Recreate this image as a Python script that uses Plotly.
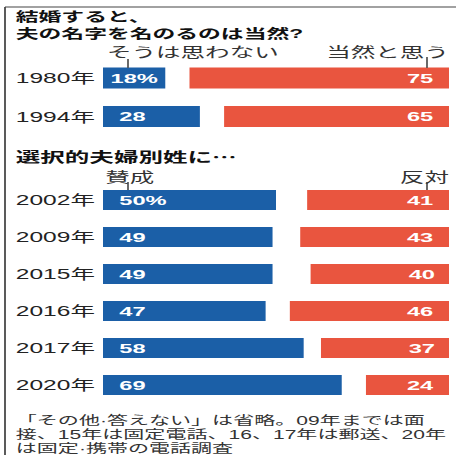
import plotly.graph_objects as go

# Question 1: should the wife take the husband's surname?
q1_years = ["1980年", "1994年"]
q1_no = [18, 28]        # そうは思わない
q1_yes = [75, 65]       # 当然と思う

# Question 2: optional separate surnames for married couples
q2_years = ["2002年", "2009年", "2015年", "2016年", "2017年", "2020年"]
q2_for = [50, 49, 49, 47, 58, 69]        # 賛成
q2_against = [41, 43, 40, 46, 37, 24]    # 反対

title_lines = ["結婚すると、", "夫の名字を名のるのは当然?"]
q1_labels = ["そうは思わない", "当然と思う"]
q2_heading = "選択的夫婦別姓に⋯"
q2_labels = ["賛成", "反対"]
note_lines = [
    "「その他·答えない」は省略。09年までは面",
    "接、15年は固定電話、16、17年は郵送、20年",
    "は固定·携帯の電話調査",
]

BLUE = "#1b5fa7"
RED = "#e9553f"
INK = "#222222"
JP = "Liberation Sans, Noto Sans CJK JP, sans-serif"
NUM = "Liberation Sans, Arial, sans-serif"

PAGE_W, H = 456, 455
W = 260                      # drawing width; the page widens it to PAGE_W
STRETCH = PAGE_W / W


def px(x):
    return x / PAGE_W


def py(y):
    return 1 - y / H


fig = go.Figure()


def add_pair(years, left_vals, right_vals, yaxis):
    fig.add_trace(go.Bar(
        y=years, x=left_vals, orientation="h", marker_color=BLUE,
        marker_line_width=0, xaxis="x", yaxis=yaxis, hoverinfo="skip"))
    fig.add_trace(go.Bar(
        y=years, x=right_vals, base=[100 - v for v in right_vals],
        orientation="h", marker_color=RED, marker_line_width=0,
        xaxis="x", yaxis=yaxis, hoverinfo="skip"))


add_pair(q1_years, q1_no, q1_yes, "y")
add_pair(q2_years, q2_for, q2_against, "y2")

annotations = []


def value_labels(years, left_vals, right_vals, yref):
    for i, (yr, lv, rv) in enumerate(zip(years, left_vals, right_vals)):
        ltxt = f"{lv}%" if i == 0 else str(lv)
        if lv < 25:
            lx, lanchor = lv / 2, "center"
        else:
            lx, lanchor = 3.7, "left"
        annotations.append(dict(
            x=lx, y=yr, xref="x", yref=yref, text=ltxt, showarrow=False,
            xanchor=lanchor, font=dict(family=NUM, size=13.5, color="white", weight="bold")))
        annotations.append(dict(
            x=97.1, y=yr, xref="x", yref=yref, text=str(rv), showarrow=False,
            xanchor="right", font=dict(family=NUM, size=13.5, color="white", weight="bold")))
        annotations.append(dict(
            x=px(13), y=yr, xref="paper", yref=yref, text=yr, showarrow=False,
            xanchor="left", font=dict(family=JP, size=14, color=INK)))


value_labels(q1_years, q1_no, q1_yes, "y")
value_labels(q2_years, q2_for, q2_against, "y2")


def text(x, y, s, anchor="left", size=14, bold=False, color=INK):
    annotations.append(dict(
        x=px(x), y=py(y), xref="paper", yref="paper", text=s, showarrow=False,
        xanchor=anchor, yanchor="middle", align="left",
        font=dict(family=JP, size=size, color=color, weight="bold" if bold else "normal")))


text(12, 25, "<br>".join(title_lines), size=13, bold=True, color="#111111")
text(103, 52, q1_labels[0], color="#333333")
text(452, 52, q1_labels[1], anchor="right", color="#333333")
text(12, 157, q2_heading, bold=True, color="#111111")
text(102, 177, q2_labels[0], color="#333333")
text(453, 177, q2_labels[1], anchor="right", color="#333333")
# footnote, one annotation per line for a tighter line pitch
for i, line in enumerate(note_lines):
    text(12, 420 + 14 * i, line, size=12, color="#333333")

shapes = []


def seg(x0, y0, x1, y1, color="#555555"):
    shapes.append(dict(type="line", xref="paper", yref="paper",
                       x0=px(x0), y0=py(y0), x1=px(x1), y1=py(y1),
                       line=dict(color=color, width=1)))


# leader ticks from the column labels down to the bars
seg(128, 59, 128, 68)
seg(427, 57, 427, 68)
seg(128, 182, 128, 190)
seg(427, 182, 427, 190)
# frame
seg(5, 7, 5, 455, "#444444")
seg(5, 7, 456, 7, "#444444")

fig.update_layout(
    width=W, height=H, autosize=False,
    margin=dict(l=0, r=0, t=0, b=0),
    paper_bgcolor="white", plot_bgcolor="white",
    barmode="overlay", bargap=0.455, showlegend=False,
    xaxis=dict(range=[0, 100], domain=[px(103), px(449)], visible=False,
               fixedrange=True),
    yaxis=dict(type="category", categoryorder="array", categoryarray=q1_years,
               range=[len(q1_years) - 0.5, -0.5], visible=False,
               domain=[py(135.75), py(58.75)], anchor="x", fixedrange=True),
    yaxis2=dict(type="category", categoryorder="array", categoryarray=q2_years,
                range=[len(q2_years) - 0.5, -0.5], visible=False,
                domain=[py(403.5), py(181.5)], anchor="x", fixedrange=True),
    annotations=annotations,
    shapes=shapes,
)

# widen the drawing horizontally to the page width
stretch_js = (
    "document.body.style.margin='0';"
    "document.body.style.overflow='hidden';"
    "var gd=document.getElementById('{plot_id}');"
    "gd.style.transformOrigin='0 0';"
    "gd.style.transform='scaleX(%.5f)';" % STRETCH
)

fig.write_html("out.html", config={"displayModeBar": False, "staticPlot": True},
               post_script=stretch_js)
